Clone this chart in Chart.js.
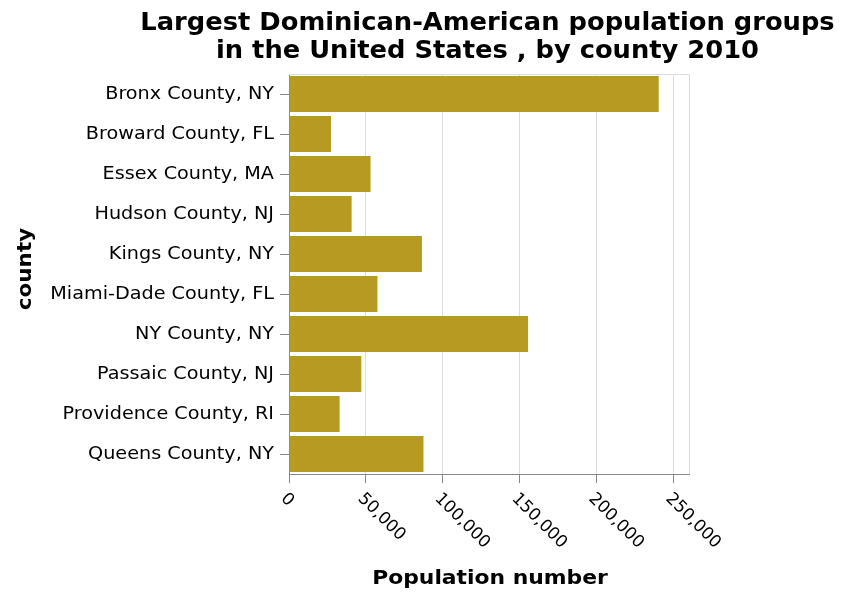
<!DOCTYPE html>
<html><head><meta charset="utf-8">
<script src="https://cdn.jsdelivr.net/npm/chart.js@4"></script>
<style>html,body{margin:0;padding:0;background:#fff}#wrap{width:846px;height:598px;position:relative}</style>
</head><body><div id="wrap"><canvas id="c"></canvas></div>
<script>
const counties = ['Bronx County, NY','Broward County, FL','Essex County, MA','Hudson County, NJ','Kings County, NY','Miami-Dade County, FL','NY County, NY','Passaic County, NJ','Providence County, RI','Queens County, NY'];
const population = [240300, 27300, 53000, 40700, 86400, 57500, 155400, 47000, 32900, 87400];
const xTicks = [0, 50000, 100000, 150000, 200000, 250000];
const xMax = 260000;
const titleLines = ['Largest Dominican-American population groups', 'in the United States , by county 2010'];
const xTitle = 'Population number';
const yTitle = 'county';

const FONT = "'DejaVu Sans', sans-serif";
const barColor = '#b79a21';
const axisGray = '#888888';
const gridGray = '#dddddd';
const fmt = v => v.toLocaleString('en-US');

// draw text with a horizontal stretch along its baseline
function txt(ctx, text, x, y, o) {
  ctx.save();
  ctx.translate(x, y);
  if (o.rot) ctx.rotate(o.rot);
  ctx.scale(o.sx || 1, 1);
  ctx.font = o.font;
  ctx.fillStyle = '#000';
  ctx.textAlign = o.align || 'left';
  ctx.textBaseline = o.baseline || 'alphabetic';
  ctx.fillText(text, 0, 0);
  ctx.restore();
}

const frame = {
  id: 'frame',
  beforeDatasetsDraw(chart) {
    const {ctx, chartArea: a} = chart;
    ctx.save();
    ctx.strokeStyle = gridGray; ctx.lineWidth = 1;
    ctx.beginPath();
    ctx.moveTo(a.left, a.top + 0.5); ctx.lineTo(a.right + 0.5, a.top + 0.5);
    ctx.lineTo(a.right + 0.5, a.bottom);
    ctx.stroke();
    ctx.restore();
  }
};

const texts = {
  id: 'texts',
  afterDraw(chart) {
    const {ctx, chartArea: a} = chart;
    const sx = chart.scales.x, sy = chart.scales.y;
    const cx = (a.left + a.right) / 2;
    // title
    titleLines.forEach((line, i) =>
      txt(ctx, line, cx - 1.5, 30 + i * 28, { font: 'bold 25px ' + FONT, sx: 1.03, align: 'center' }));
    // y category labels
    sy.ticks.forEach(t =>
      txt(ctx, counties[t.value], sy.right - 9 - 6, sy.getPixelForValue(t.value) + 1,
        { font: '17px ' + FONT, sx: 1.13, align: 'right', baseline: 'middle' }));
    // x tick labels, rotated 45 degrees
    sx.ticks.forEach(t =>
      txt(ctx, fmt(t.value), sx.getPixelForValue(t.value) - 5.5, sx.top + 22,
        { font: '17px ' + FONT, sx: 1.0, rot: Math.PI / 4, align: 'left', baseline: 'middle' }));
    // axis titles
    txt(ctx, xTitle, cx + 1, a.bottom + 109.5, { font: 'bold 19px ' + FONT, sx: 1.15, align: 'center' });
    txt(ctx, yTitle, 30.7, (a.top + a.bottom) / 2 - 5,
      { font: 'bold 19px ' + FONT, sx: 1.13, rot: -Math.PI / 2, align: 'center' });
  }
};

new Chart(document.getElementById('c'), {
  type: 'bar',
  data: {
    labels: counties,
    datasets: [{ data: population, backgroundColor: barColor, borderWidth: 0,
      categoryPercentage: 0.9, barPercentage: 1.0 }]
  },
  options: {
    indexAxis: 'y',
    responsive: true,
    maintainAspectRatio: false,
    animation: false,
    layout: { padding: { left: 0, right: 157, top: 74, bottom: 0 } },
    plugins: {
      legend: { display: false },
      tooltip: { enabled: false },
      title: { display: false }
    },
    scales: {
      x: {
        type: 'linear', min: 0, max: xMax,
        afterBuildTicks: s => { s.ticks = xTicks.map(v => ({ value: v })); },
        afterFit: s => { s.height = 124; },
        ticks: { color: 'rgba(0,0,0,0)', minRotation: 45, maxRotation: 45, autoSkip: false,
          font: { family: FONT, size: 16 }, callback: v => fmt(v), padding: 4 },
        grid: { color: gridGray, tickColor: axisGray, tickLength: 9, lineWidth: 1 },
        border: { color: axisGray, width: 1 },
        title: { display: false }
      },
      y: {
        type: 'category',
        afterFit: s => { s.width = 289; },
        ticks: { color: 'rgba(0,0,0,0)', font: { family: FONT, size: 16 }, padding: 6, autoSkip: false },
        grid: { offset: false, drawOnChartArea: false, tickColor: axisGray, tickLength: 9 },
        border: { color: axisGray, width: 1 },
        title: { display: false }
      }
    }
  },
  plugins: [frame, texts]
});
</script></body></html>
